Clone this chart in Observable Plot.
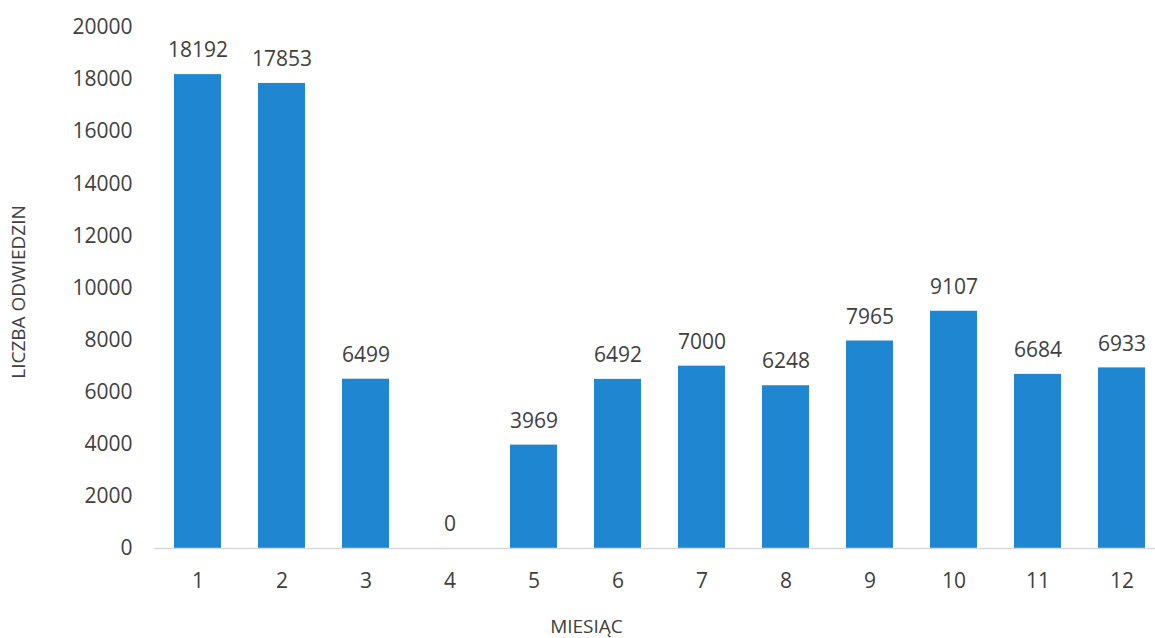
<!DOCTYPE html>
<html>
<head>
<meta charset="utf-8">
<script src="https://cdn.jsdelivr.net/npm/d3@7"></script>
<script src="https://cdn.jsdelivr.net/npm/@observablehq/plot@0.6"></script>
<style>
  html, body { margin: 0; padding: 0; background: #fff; }
  #wrap { width: 1155px; height: 638px; overflow: hidden; }
  #xlabel { width: 1155px; height: 26px; line-height: 28px; text-align: center; box-sizing: border-box; padding-left: 18px;
            font-family: "Open Sans", sans-serif; font-size: 19px; color: #404040; }
</style>
</head>
<body>
<div id="wrap"></div>
<script>
const months = [1, 2, 3, 4, 5, 6, 7, 8, 9, 10, 11, 12];
const visits = [18192, 17853, 6499, 0, 3969, 6492, 7000, 6248, 7965, 9107, 6684, 6933];
const yTicks = [0, 2000, 4000, 6000, 8000, 10000, 12000, 14000, 16000, 18000, 20000];
const yTitle = "LICZBA ODWIEDZIN";
const xTitle = "MIESIĄC";

const data = months.map((m, i) => ({month: m, visits: visits[i]}));

const chart = Plot.plot({
  width: 1155,
  height: 612,
  marginLeft: 154,
  marginRight: 0,
  marginTop: 27,
  marginBottom: 64,
  style: {fontFamily: "Open Sans, sans-serif", fontSize: "21px", color: "#404040", background: "white", overflow: "visible"},
  x: {type: "band", domain: months, range: [154.4, 1164.6], paddingInner: 0.44, paddingOuter: 0.22},
  y: {domain: [0, 20000]},
  marks: [
    Plot.barY(data, {x: "month", y: "visits", fill: "#1f87d1"}),
    Plot.ruleY([0], {stroke: "#d9d9d9", strokeWidth: 1.5}),
    Plot.text(data, {x: "month", y: "visits", text: d => String(d.visits), dy: -24, fill: "#404040"}),
    Plot.axisY({ticks: yTicks, tickSize: 0, tickPadding: 22, label: null, tickFormat: d => String(d), fill: "#404040"}),
    Plot.axisX({tickSize: 0, tickPadding: 25, label: null, fill: "#404040"}),
    Plot.text([yTitle], {frameAnchor: "left", textAnchor: "middle", lineAnchor: "middle", rotate: -90, dx: -136, dy: 4, fontSize: 19, fill: "#404040"})
  ]
});

const wrap = document.getElementById("wrap");
wrap.appendChild(chart);
const lab = document.createElement("div");
lab.id = "xlabel";
lab.textContent = xTitle;
wrap.appendChild(lab);
</script>
</body>
</html>
